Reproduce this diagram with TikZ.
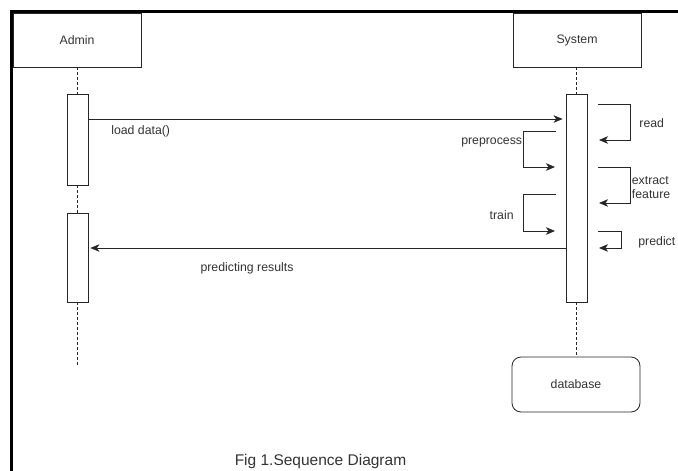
\documentclass[tikz,border=0pt]{standalone}
\usepackage{fontspec}
\setmainfont{Liberation Sans}
\usetikzlibrary{arrows,arrows.meta,shapes,positioning,calc}

\begin{document}
\begin{tikzpicture}[x=1pt,y=-1pt,->,>={Stealth[length=9pt,width=7.5pt,inset=2.5pt]},
  color=black!85,line width=0.8pt,
  font=\fontsize{12.3}{14}\selectfont,text=black!80,
  actor/.style={draw,minimum width=128pt,minimum height=54pt,inner sep=0pt},
  act/.style={draw,fill=white,minimum width=21pt,inner sep=0pt},
  life/.style={-,dashed,dash pattern=on 3pt off 2pt}]
\useasboundingbox (0,0) rectangle (678,471);
\draw[-,draw=black,line width=3.5pt] (11.5,471) -- (11.5,11.5) -- (678,11.5);
% participants
\node[actor] (admin) at (77,40) {Admin};
\node[actor] (sys) at (577,40) {System};
\node[act,minimum height=91pt] (a1) at (77.5,139.5) {};
\node[act,minimum height=89pt] (a2) at (77.5,257.5) {};
\node[act,minimum height=208pt] (sa) at (576.5,198) {};
\node[draw,rounded corners=9pt,minimum width=128pt,minimum height=55pt] (db) at (576,384.5) {database};
\coordinate (aend) at (77.5,366);
% lifelines
\draw[life] (admin.south -| a1.north) -- (a1.north);
\draw[life] (a1.south) -- (a2.north);
\draw[life] (a2.south) -- (aend);
\draw[life] (sys.south -| sa.north) -- (sa.north);
\draw[life] (sa.south) -- (sa.south |- db.north);
% messages
\coordinate (m1) at (0,119);
\coordinate (m2) at (0,248);
\draw[shorten >=3pt] (a1.east |- m1) -- (sa.west |- m1) node[pos=0.045,below right,inner sep=1pt,yshift=-5pt]{load data()};
\draw[shorten >=2pt] (sa.west |- m2) -- (a2.east |- m2);
\node (pr) at (247,268) {predicting results};
% self messages
\coordinate (rd1) at (598,104); \coordinate (rd2) at (599,140);
\coordinate (ex1) at (598,167); \coordinate (ex2) at (599,203);
\coordinate (pd1) at (598,231); \coordinate (pd2) at (599,248);
\coordinate (pp1) at (556,131); \coordinate (pp2) at (555,167);
\coordinate (tr1) at (556,194); \coordinate (tr2) at (555,231);
\draw (rd1) -- ++(32,0) |- (rd2);
\draw (ex1) -- ++(32,0) |- (ex2);
\draw (pd1) -- ++(23,0) |- (pd2);
\draw (pp1) -- ++(-33,0) |- (pp2);
\draw (tr1) -- ++(-33,0) |- (tr2);
\node[anchor=west,inner sep=1pt] (lrd) at (638,123) {read};
\node[anchor=west,inner sep=1pt,align=left] (lex) at (630.5,188) {extract\\feature};
\node[anchor=west,inner sep=1pt] (lpd) at (637,242) {predict};
\node[anchor=east,inner sep=1pt] (lpp) at (523.5,142) {preprocess};
\node[anchor=east,inner sep=1pt] (ltr) at (515,215) {train};
% caption
\node[font=\fontsize{15.5}{18}\selectfont] (cap) at (320.5,461) {Fig 1.Sequence Diagram};
\end{tikzpicture}
\end{document}
